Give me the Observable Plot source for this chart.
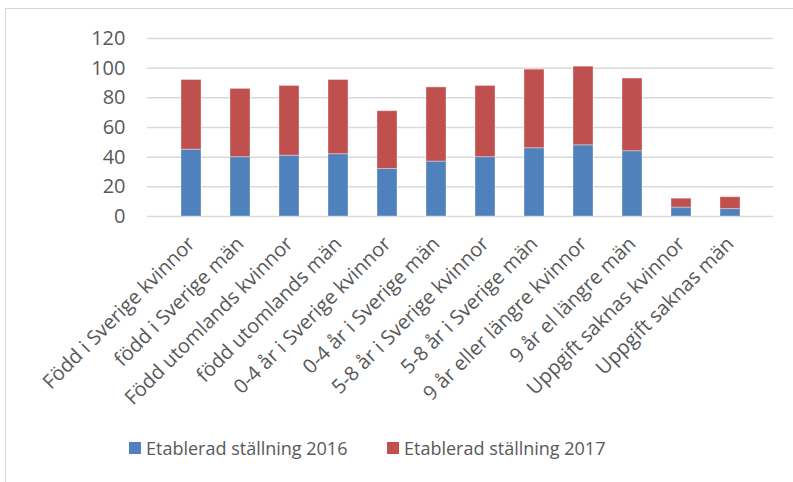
<!DOCTYPE html>
<html><head><meta charset="utf-8">
<script src="https://cdn.jsdelivr.net/npm/d3@7"></script>
<script src="https://cdn.jsdelivr.net/npm/@observablehq/plot@0.6"></script>
<style>
html,body{margin:0;padding:0;background:#fff;font-family:"Open Sans",sans-serif;}
#frame{position:absolute;left:5px;top:8px;width:830px;height:520px;border:1.5px solid #d9d9d9;box-sizing:border-box;}
#chart{position:absolute;left:0;top:0;}
.item{position:absolute;top:436px;display:flex;align-items:center;font-size:18px;color:#595959;white-space:nowrap;}
.sw{width:12px;height:12px;margin-right:5px;}
</style></head>
<body>
<div id="frame"></div>
<div id="chart"></div>
<div id="legend"></div>
<script>
const categories = ["Född i Sverige kvinnor","född i Sverige män","Född utomlands kvinnor","född utomlands män","0-4 år i Sverige kvinnor","0-4 år i Sverige män","5-8 år i Sverige kvinnor","5-8 år i Sverige män","9 år eller längre kvinnor","9 år el längre män","Uppgift saknas kvinnor","Uppgift saknas män"];
const seriesNames = ["Etablerad ställning 2016","Etablerad ställning 2017"];
const v2016 = [45,40,41,42,32,37,40,46,48,44,6,5];
const v2017 = [47,46,47,50,39,50,48,53,53,49,6,8];
const colors = ["#4f81bd","#c0504d"];
const yTicks = [0,20,40,60,80,100,120];

const data = [];
categories.forEach((c,i)=>{
  data.push({category:c, series:seriesNames[0], value:v2016[i]});
  data.push({category:c, series:seriesNames[1], value:v2017[i]});
});

const chart = Plot.plot({
  width: 793, height: 420,
  marginLeft: 147, marginRight: 20, marginTop: 38, marginBottom: 204,
  x: {domain: categories, padding: 0.6, label: null},
  y: {domain: [0,120], label: null},
  color: {domain: seriesNames, range: colors},
  style: {fontFamily: "Open Sans", fontSize: "20px", color: "#595959", background: "transparent", overflow: "visible"},
  marks: [
    Plot.ruleY(yTicks, {stroke: "#d9d9d9", strokeWidth: 1.5}),
    Plot.barY(data, {x: "category", y: "value", fill: "series", stroke: "white", strokeOpacity: 0.35, strokeWidth: 1}),
    Plot.axisY({ticks: yTicks, tickSize: 0, tickPadding: 22, fontSize: 20, label: null}),
    Plot.axisX({tickSize: 0, tickRotate: -45, tickPadding: 24, fontSize: 20, label: null})
  ]
});
document.getElementById("chart").appendChild(chart);

const lg = document.getElementById("legend");
const lefts = [129, 387];
seriesNames.forEach((s,i)=>{
  const d = document.createElement("div");
  d.className = "item";
  d.style.left = lefts[i] + "px";
  d.innerHTML = `<span class="sw" style="background:${colors[i]}"></span><span>${s}</span>`;
  lg.appendChild(d);
});
</script>
</body></html>
